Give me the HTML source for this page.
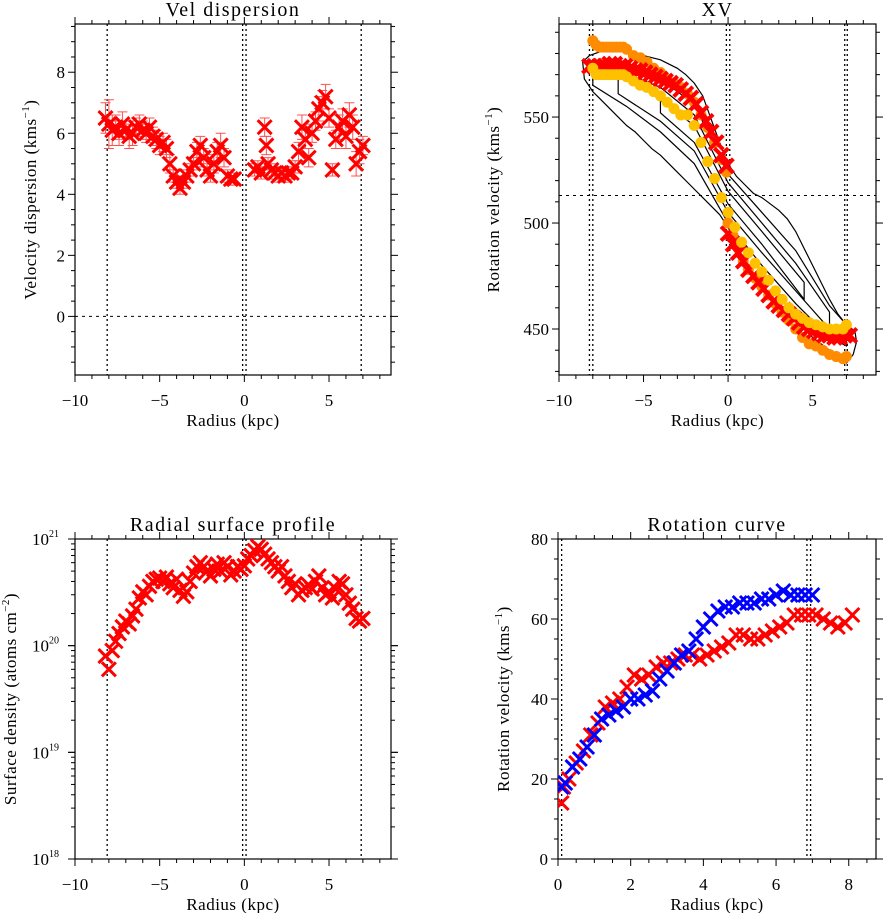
<!DOCTYPE html>
<html><head><meta charset="utf-8">
<style>
html,body{margin:0;padding:0;background:#fff;}
svg{display:block;font-family:"Liberation Serif","DejaVu Serif",serif;}
</style></head>
<body>
<svg id="fig" width="883" height="913" viewBox="0 0 883 913" xmlns="http://www.w3.org/2000/svg"></svg>
<script>
// ---------- Panel 1: velocity dispersion ----------
const dispR = [-8.2,-8.0,-7.8,-7.6,-7.4,-7.2,-7.0,-6.8,-6.6,-6.4,-6.2,-6.0,-5.8,-5.6,-5.4,-5.2,-5.0,-4.8,-4.6,-4.4,-4.2,-4.0,-3.8,-3.6,-3.4,-3.2,-3.0,-2.8,-2.6,-2.4,-2.2,-2.0,-1.8,-1.6,-1.4,-1.2,-1.0,-0.8,-0.6,
 0.6,0.8,1.0,1.2,1.3,1.4,1.6,1.8,2.0,2.2,2.4,2.6,2.8,3.0,3.2,3.4,3.6,3.8,4.0,4.2,4.4,4.6,4.8,5.0,5.2,5.4,5.6,5.8,6.0,6.2,6.4,6.6,6.8,7.0];
const dispV = [6.5,6.3,6.1,6.2,6.0,6.3,6.1,5.9,6.0,6.2,6.3,6.1,6.0,6.2,5.9,5.8,5.6,5.7,5.5,5.0,4.6,4.4,4.2,4.4,4.6,4.8,5.0,5.4,5.6,5.2,4.8,4.6,5.0,5.4,5.6,5.2,4.6,4.5,4.5,
 4.8,4.9,4.7,6.2,5.6,5.0,4.8,4.7,4.6,4.7,4.6,4.7,4.7,4.9,5.4,6.2,5.8,5.2,6.0,6.4,6.8,7.0,7.2,6.5,4.8,5.8,6.2,6.4,5.9,6.6,6.2,5.0,5.4,5.6];
const dispErr = [0.5,0.8,0.5,0.4,0.4,0.4,0.3,0.4,0.4,0.3,0.3,0.3,0.3,0.3,0.3,0.3,0.3,0.3,0.3,0.3,0.2,0.2,0.2,0.2,0.2,0.2,0.2,0.3,0.3,0.3,0.2,0.2,0.3,0.3,0.4,0.3,0.2,0.2,0.2,
 0.2,0.2,0.2,0.3,0.3,0.2,0.2,0.2,0.2,0.2,0.2,0.2,0.2,0.2,0.3,0.4,0.3,0.3,0.3,0.3,0.4,0.4,0.4,0.3,0.2,0.3,0.4,0.4,0.4,0.4,0.4,0.4,0.4,0.3];

// ---------- Panel 2: XV diagram ----------
const orangeR = [-8.0,-7.8,-7.6,-7.4,-7.2,-7.0,-6.8,-6.6,-6.4,-6.2,-6.0,-5.6,-5.2,-4.8,-4.4,-4.0,-3.6,-3.2,-2.8,-2.4,-2.0,-1.6,-1.2,-0.8,-0.4,-0.1,
 0.0,0.3,0.6,0.9,1.2,1.6,2.0,2.4,2.8,3.2,3.6,4.0,4.4,4.8,5.2,5.6,6.0,6.4,6.8,7.0];
const orangeV = [586,584,583,583,583,583,583,583,583,583,582,579,578,576,573,571,568,566,564,561,557,551,545,538,530,524,
 500,494,488,482,478,474,470,466,462,458,454,450,446,443,442,440,438,437,436,437];
const yellowR = [-8.0,-7.8,-7.6,-7.4,-7.2,-7.0,-6.8,-6.6,-6.4,-6.2,-6.0,-5.6,-5.2,-4.8,-4.4,-4.0,-3.6,-3.2,-2.8,-2.4,-2.0,-1.6,-1.2,-0.8,-0.4,0.0,0.4,0.8,1.2,1.6,2.0,2.4,2.8,3.2,3.6,4.0,4.4,4.8,5.2,5.6,6.0,6.4,6.8,7.0];
const yellowV = [573,570,570,570,570,570,570,570,570,570,569,567,565,564,562,560,557,554,551,551,546,538,529,521,512,505,498,491,486,481,477,473,468,464,460,457,455,453,452,451,450,450,450,452];
const redXR = [-8.2,-7.9,-7.6,-7.3,-7.0,-6.7,-6.4,-6.1,-5.8,-5.5,-5.2,-4.9,-4.6,-4.3,-4.0,-3.7,-3.4,-3.1,-2.8,-2.5,-2.2,-1.9,-1.6,-1.3,-1.0,-0.7,-0.4,-0.1,
 0.0,0.3,0.6,0.9,1.2,1.5,1.8,2.1,2.4,2.7,3.0,3.3,3.6,3.9,4.2,4.5,4.8,5.1,5.4,5.7,6.0,6.3,6.6,6.9,7.2];
const redXV = [574,574,574,574,575,575,574,574,573,572,572,571,570,569,568,567,566,565,563,561,559,556,552,548,543,538,532,527,
 495,490,486,482,478,475,472,469,466,463,461,459,457,455,453,451,450,449,448,447,447,446,446,447,447];
const contourA = [[-8.6,576],[-8.2,579],[-7.5,581],[-7.0,582],[-6.5,581],[-6.0,582],[-5.0,579],[-4.0,577],[-3.0,573],[-2.5,570],[-2.0,566],[-1.5,560],[-1.0,549],[-0.5,538],[0,528],[0.5,522],[1.0,518],[1.5,514],[2.0,512],[2.5,509],[3.0,506],[3.5,502],[4.0,496],[4.5,488],[5.0,480],[5.5,472],[6.0,464],[6.5,457],[7.0,452],[7.5,449],
 [7.6,444],[7.4,438],[7.0,434],[6.5,438],[6.0,440],[5.5,443],[5.0,446],[4.5,450],[4.0,454],[3.5,458],[3.0,462],[2.5,466],[2.0,470],[1.5,476],[1.0,482],[0.5,490],[0,498],[-0.5,504],[-1.0,508],[-1.5,512],[-2.0,516],[-2.5,520],[-3.0,524],[-3.5,528],[-4.0,532],[-4.5,535],[-5.0,539],[-5.5,543],[-6.0,546],[-6.5,550],[-7.0,554],[-7.5,558],[-8.0,562],[-8.5,568]];
const contourB = [[-8,576],[-6,575],[-4,568],[-2,556],[0,523],[2,505],[4,487],[6,461],[7,452],[7,442],[6,446],[4,462],[2,480],[0,500],[-2,528],[-4,543],[-6,555],[-8,565]];
const contourC = [[-6.5,572],[-4,564],[-2,551],[0,519],[2,500],[4,481],[6,458],[6,450],[4,468],[2,486],[0,505],[-2,534],[-4,548],[-6.5,561]];
const contourD = [[-4,558],[-2,546],[0,515],[2,496],[4.5,472],[4.5,464],[2,490],[0,509],[-2,538],[-4,552]];

// ---------- Panel 3: surface density ----------
const surfR = [-8.2,-8.0,-7.8,-7.6,-7.4,-7.2,-7.0,-6.8,-6.6,-6.4,-6.2,-6.0,-5.8,-5.6,-5.4,-5.2,-5.0,-4.8,-4.6,-4.4,-4.2,-4.0,-3.8,-3.6,-3.4,-3.2,-3.0,-2.8,-2.6,-2.4,-2.2,-2.0,-1.8,-1.6,-1.4,-1.2,-1.0,-0.8,-0.6,-0.4,-0.2,0.0,0.2,0.4,0.6,0.8,1.0,1.2,1.4,1.6,1.8,2.0,2.2,2.4,2.6,2.8,3.0,3.2,3.4,3.6,3.8,4.0,4.2,4.4,4.6,4.8,5.0,5.2,5.4,5.6,5.8,6.0,6.2,6.4,6.6,6.8,7.0];
const surfN = [8e19,6e19,9e19,1.1e20,1.3e20,1.5e20,1.7e20,1.6e20,1.9e20,2.2e20,2.8e20,3.2e20,3.0e20,3.6e20,4.0e20,4.2e20,4.3e20,4.0e20,4.4e20,3.8e20,3.5e20,4.2e20,3.3e20,2.9e20,3.2e20,4.0e20,4.8e20,5.5e20,6.0e20,5.5e20,5.0e20,4.5e20,5.2e20,5.8e20,5.0e20,6.0e20,5.5e20,4.6e20,5.0e20,5.5e20,5.2e20,5.6e20,6.5e20,7.0e20,7.8e20,8.5e20,8.0e20,7.2e20,6.5e20,6.0e20,5.5e20,5.0e20,5.5e20,4.5e20,4.0e20,3.5e20,3.8e20,3.0e20,3.3e20,3.5e20,3.7e20,3.4e20,4.0e20,4.5e20,3.5e20,3.0e20,3.2e20,2.8e20,3.4e20,4.0e20,3.8e20,3.0e20,2.5e20,2.2e20,1.8e20,1.7e20,1.8e20];

// ---------- Panel 4: rotation curve ----------
const rcRedR = [0.1,0.15,0.3,0.5,0.7,0.9,1.1,1.3,1.5,1.7,1.9,2.1,2.3,2.5,2.7,2.9,3.1,3.3,3.5,3.7,3.9,4.1,4.3,4.5,4.7,4.9,5.1,5.3,5.5,5.7,5.9,6.1,6.3,6.5,6.7,6.9,7.1,7.3,7.5,7.7,7.9,8.1];
const rcRedV = [14,18,20,24,27,31,34,38,39,40,43,46,45,46,48,49,49,50,51,51,50,51,52,53,54,56,56,55,55,56,57,58,59,61,61,61,61,60,59,58,59,61];
const rcBlueR = [0.1,0.2,0.4,0.6,0.8,1.0,1.2,1.4,1.6,1.8,2.0,2.2,2.4,2.6,2.8,3.0,3.2,3.4,3.6,3.8,4.0,4.2,4.4,4.6,4.8,5.0,5.2,5.4,5.6,5.8,6.0,6.2,6.4,6.6,6.8,7.0];
const rcBlueV = [18,19,23,25,28,31,35,36,37,38,40,40,41,42,45,47,49,51,52,55,58,60,62,63,63,64,64,64,65,65,66,67,66,66,66,66];

const NS='http://www.w3.org/2000/svg';
const svg=document.getElementById('fig');
function mk(tag,attrs,parent){const e=document.createElementNS(NS,tag);for(const k in attrs)e.setAttribute(k,attrs[k]);(parent||svg).appendChild(e);return e;}

function panel(o){
  const g=mk('g',{});
  
  
  const sx=v=>o.x0+(v-o.xmin)/(o.xmax-o.xmin)*(o.x1-o.x0);
  const sy=o.log?(v=>o.y1-(Math.log10(v)-o.ymin)/(o.ymax-o.ymin)*(o.y1-o.y0)):(v=>o.y1-(v-o.ymin)/(o.ymax-o.ymin)*(o.y1-o.y0));
  const box=mk('rect',{x:o.x0,y:o.y0,width:o.x1-o.x0,height:o.y1-o.y0,fill:'none',stroke:'#000','stroke-width':1.2},g);
  
  
  const ax=mk('g',{},g);
  
  
  for(let v=o.xmin;v<=o.xmax+1e-9;v+=o.xminor){
    const isMaj=Math.abs(v/o.xmajor-Math.round(v/o.xmajor))<1e-6;
    const len=isMaj?7:4,X=sx(v);
    mk('line',{x1:X,x2:X,y1:o.y1,y2:o.y1+len,stroke:'#000','stroke-width':1},ax);
    mk('line',{x1:X,x2:X,y1:o.y0,y2:o.y0-len,stroke:'#000','stroke-width':1},ax);
    if(isMaj){const t=mk('text',{x:X,y:o.y1+31,'font-size':17,'text-anchor':'middle'},ax);
      const r=Math.round(v);t.textContent=r<0?'\u2212'+(-r):''+r;
      
      }
  }
  const ay=mk('g',{},g);
  
  
  if(o.log){
    for(let d=o.ymin;d<o.ymax;d++){for(let m=1;m<10;m++){const Y=sy(m*Math.pow(10,d));const len=m==1?7:4;
      mk('line',{x1:o.x0,x2:o.x0-len,y1:Y,y2:Y,stroke:'#000'},ay);mk('line',{x1:o.x1,x2:o.x1+len,y1:Y,y2:Y,stroke:'#000'},ay);}}
    for(let d=o.ymin;d<=o.ymax;d++){const Y=sy(Math.pow(10,d));
      mk('line',{x1:o.x0,x2:o.x0-7,y1:Y,y2:Y,stroke:'#000'},ay);mk('line',{x1:o.x1,x2:o.x1+7,y1:Y,y2:Y,stroke:'#000'},ay);
      const t=mk('text',{x:o.x0-43,y:Y+6,'font-size':17},ay);
      
      
      t.textContent='10';const s=mk('tspan',{dy:-8,'font-size':10},t);s.textContent=''+d;}
  } else {
    const start=Math.ceil(o.ymin/o.yminor)*o.yminor;
    for(let v=start;v<=o.ymax+1e-9;v+=o.yminor){
      const isMaj=Math.abs(v/o.ymajor-Math.round(v/o.ymajor))<1e-6;const len=isMaj?7:4,Y=sy(v);
      mk('line',{x1:o.x0,x2:o.x0-len,y1:Y,y2:Y,stroke:'#000'},ay);mk('line',{x1:o.x1,x2:o.x1+len,y1:Y,y2:Y,stroke:'#000'},ay);
      if(isMaj){const t=mk('text',{x:o.x0-10,y:Y+6,'font-size':17,'text-anchor':'end'},ay);t.textContent=''+Math.round(v);
        
        }
    }
  }
  const title=mk('text',{x:(o.x0+o.x1)/2,y:o.y0-8,'font-size':20,'text-anchor':'middle','letter-spacing':'1.5'},g);
  title.textContent=o.title;
  
  
  const xl=mk('text',{x:(o.x0+o.x1)/2,y:o.y1+51,'font-size':17,'text-anchor':'middle','letter-spacing':'0.5'},g);
  xl.textContent='Radius (kpc)';
  
  
  const cy=(o.y0+o.y1)/2;
  const yl=mk('text',{x:o.ylx,y:cy,'font-size':17,'text-anchor':'middle','letter-spacing':'0.5',transform:`rotate(-90 ${o.ylx} ${cy})`},g);
  
  
  yl.textContent=o.ylab;const sp=mk('tspan',{dy:-7,'font-size':11},yl);sp.textContent=o.ysup;const sp2=mk('tspan',{dy:7},yl);sp2.textContent=')';
  const clip='c'+o.name;const cp=mk('clipPath',{id:clip},g);mk('rect',{x:o.x0,y:o.y0,width:o.x1-o.x0,height:o.y1-o.y0},cp);
  const plot=mk('g',{'clip-path':`url(#${clip})`},g);
  return {g,plot,sx,sy};
}
function vdash(P,o,xs){for(const v of xs){const l=mk('line',{x1:P.sx(v),x2:P.sx(v),y1:o.y0,y2:o.y1,stroke:'#000','stroke-width':1.3,'stroke-dasharray':'2,3'},P.plot);
  
  }}
function hdash(P,o,v){const l=mk('line',{x1:o.x0,x2:o.x1,y1:P.sy(v),y2:P.sy(v),stroke:'#000','stroke-width':1,'stroke-dasharray':'3,4'},P.plot);
  
  }
function xmark(parent,X,Y,s,col,w){const p=mk('path',{d:`M${X-s},${Y-s}L${X+s},${Y+s}M${X-s},${Y+s}L${X+s},${Y-s}`,stroke:col,'stroke-width':w,fill:'none'},parent);
  
  return p;}

// Panel 1
const o1={name:'vel-dispersion-panel',x0:75,x1:391,y0:24,y1:375,xmin:-10,xmax:8.66,ymin:-1.92,ymax:9.58,xmajor:5,xminor:1,ymajor:2,yminor:0.5,title:'Vel dispersion',ylab:'Velocity dispersion (kms',ysup:'\u22121',ylx:36};
const P1=panel(o1);
vdash(P1,o1,[-8.1,-0.1,0.1,6.9]);hdash(P1,o1,0);
for(let i=0;i<dispR.length;i++){const X=P1.sx(dispR[i]);const e=mk('path',{d:`M${X},${P1.sy(dispV[i]-dispErr[i])}V${P1.sy(dispV[i]+dispErr[i])}M${X-5},${P1.sy(dispV[i]-dispErr[i])}h10M${X-5},${P1.sy(dispV[i]+dispErr[i])}h10`,stroke:'#ff5050','stroke-width':1},P1.plot);
  
  }
for(let i=0;i<dispR.length;i++){xmark(P1.plot,P1.sx(dispR[i]),P1.sy(dispV[i]),7,'#ff0000',3);}

// Panel 2
const o2={name:'xv-panel',x0:559,x1:876,y0:24,y1:375,xmin:-10,xmax:8.75,ymin:428.3,ymax:593.9,xmajor:5,xminor:1,ymajor:50,yminor:10,title:'XV',ylab:'Rotation velocity (kms',ysup:'\u22121',ylx:499};
const P2=panel(o2);
vdash(P2,o2,[-8.2,-8.0,-0.1,0.1,6.9,7.05]);hdash(P2,o2,513);
for(const c of [contourA,contourB,contourC,contourD]){const p=mk('path',{d:'M'+c.map(q=>P2.sx(q[0])+','+P2.sy(q[1])).join('L')+'Z',fill:'none',stroke:'#000','stroke-width':1.2},P2.plot);
  
  }
for(let i=0;i<orangeR.length;i++){const c=mk('circle',{cx:P2.sx(orangeR[i]),cy:P2.sy(orangeV[i]),r:5.5,fill:'#ff8c00'},P2.plot);
  
  }
for(let i=0;i<redXR.length;i++){xmark(P2.plot,P2.sx(redXR[i]),P2.sy(redXV[i]),7,'#ff0000',4);}
for(let i=0;i<yellowR.length;i++){const c=mk('circle',{cx:P2.sx(yellowR[i]),cy:P2.sy(yellowV[i]),r:5.5,fill:'#ffc000'},P2.plot);
  
  }

// Panel 3
const o3={name:'surface-profile-panel',x0:75,x1:391,y0:539,y1:859,xmin:-10,xmax:8.66,ymin:18,ymax:21,log:true,xmajor:5,xminor:1,title:'Radial surface profile',ylab:'Surface density (atoms cm',ysup:'\u22122',ylx:16};
const P3=panel(o3);
vdash(P3,o3,[-8.1,-0.1,0.1,6.9]);
for(let i=0;i<surfR.length;i++){xmark(P3.plot,P3.sx(surfR[i]),P3.sy(surfN[i]),7,'#ff0000',3);}

// Panel 4
const o4={name:'rotation-curve-panel',x0:558,x1:876,y0:539,y1:859,xmin:0,xmax:8.75,ymin:0,ymax:80,xmajor:2,xminor:0.5,ymajor:20,yminor:5,title:'Rotation curve',ylab:'Rotation velocity (kms',ysup:'\u22121',ylx:509};
const P4=panel(o4);
vdash(P4,o4,[0.1,6.85,6.95]);
for(let i=0;i<rcRedR.length;i++){xmark(P4.plot,P4.sx(rcRedR[i]),P4.sy(rcRedV[i]),7,'#ff0000',3);}
for(let i=0;i<rcBlueR.length;i++){xmark(P4.plot,P4.sx(rcBlueR[i]),P4.sy(rcBlueV[i]),7,'#0000ff',3);}
</script>
</body></html>
